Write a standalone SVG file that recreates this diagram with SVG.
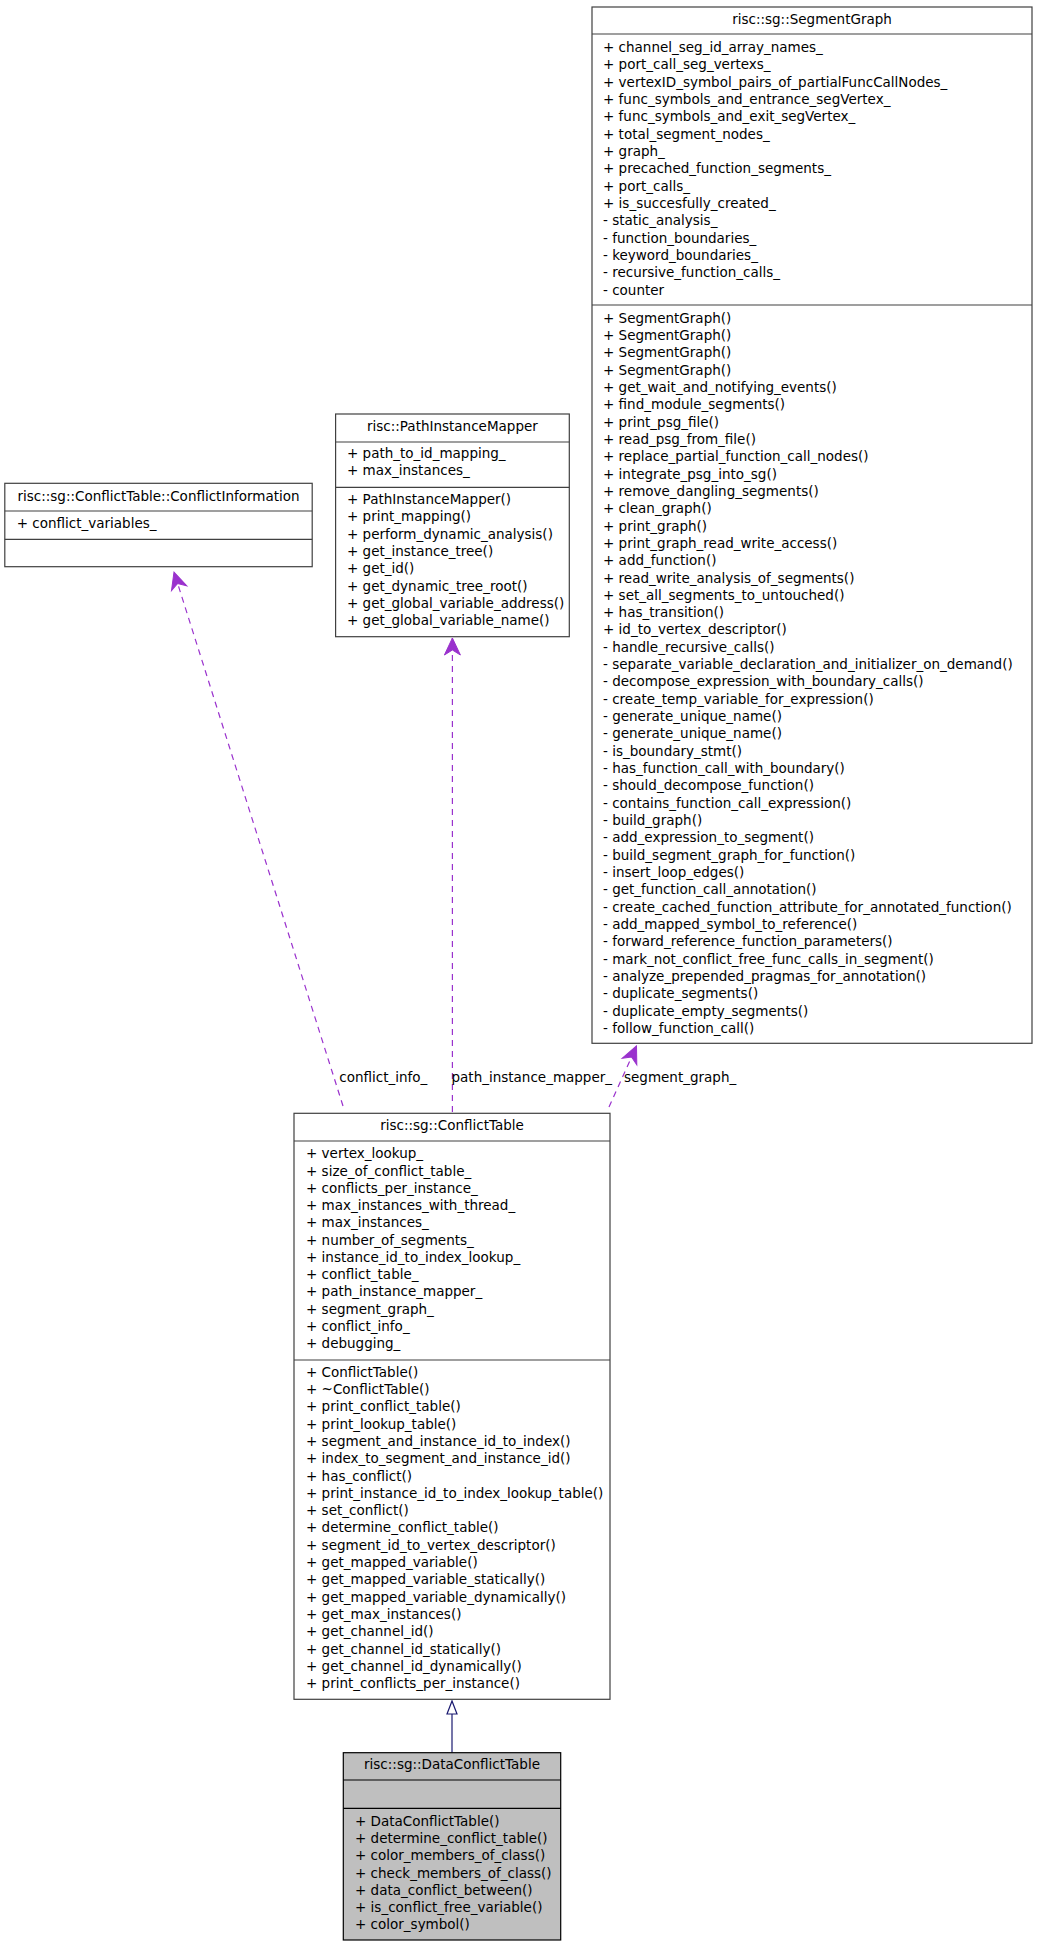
<svg xmlns="http://www.w3.org/2000/svg" width="1037" height="1947" viewBox="0 0 1037 1947">
<style>
  .box{fill:#ffffff;stroke:#404040;stroke-width:1.2}
  .hl{fill:#bfbfbf;stroke:#000000;stroke-width:1.2}
  .sep{stroke:#404040;stroke-width:1.2}
  .sepk{stroke:#000000;stroke-width:1.2}
  text{font-family:"DejaVu Sans","Liberation Sans",sans-serif;font-size:13.5px;fill:#000000}
  .t{text-anchor:middle}
  .use{fill:none;stroke:#9a32cd;stroke-width:1.2;stroke-dasharray:6,5}
  .inh{fill:none;stroke:#191970;stroke-width:1.2}
</style>
<defs>
  <marker id="vee" markerUnits="userSpaceOnUse" markerWidth="40" markerHeight="40" viewBox="-20 -20 40 40" refX="0" refY="0" orient="auto" overflow="visible">
    <path d="M0,0 L-17,-8 L-12,0 L-17,8 Z" fill="#9a32cd" stroke="#9a32cd" stroke-width="1"/>
  </marker>
</defs>
<rect width="1037" height="1947" fill="#ffffff"/>

<g id="connectors">
  <path class="use" d="M343,1106 L174,572" marker-end="url(#vee)"/>
  <path class="use" d="M452.4,1112 L452.4,638" marker-end="url(#vee)"/>
  <path class="use" d="M609,1107 L636.5,1046" marker-end="url(#vee)"/>
  <text x="339.3" y="1081.7">conflict_info_</text>
  <text x="451.5" y="1081.7">path_instance_mapper_</text>
  <text x="624" y="1081.7">segment_graph_</text>
  <line class="inh" x1="452" y1="1752.7" x2="452" y2="1714"/>
  <polygon points="452,1701 447,1714 457,1714" fill="#ffffff" stroke="#191970" stroke-width="1.2"/>
</g>

<g id="SegmentGraph">
  <rect class="box" x="592" y="7" width="440" height="1036.3"/>
  <line class="sep" x1="592" y1="34" x2="1032" y2="34"/>
  <line class="sep" x1="592" y1="305" x2="1032" y2="305"/>
  <text class="t" x="812" y="24">risc::sg::SegmentGraph</text>
  <text x="603" y="52">
    <tspan x="603" dy="0">+ channel_seg_id_array_names_</tspan>
    <tspan x="603" dy="17.33">+ port_call_seg_vertexs_</tspan>
    <tspan x="603" dy="17.33">+ vertexID_symbol_pairs_of_partialFuncCallNodes_</tspan>
    <tspan x="603" dy="17.33">+ func_symbols_and_entrance_segVertex_</tspan>
    <tspan x="603" dy="17.33">+ func_symbols_and_exit_segVertex_</tspan>
    <tspan x="603" dy="17.33">+ total_segment_nodes_</tspan>
    <tspan x="603" dy="17.33">+ graph_</tspan>
    <tspan x="603" dy="17.33">+ precached_function_segments_</tspan>
    <tspan x="603" dy="17.33">+ port_calls_</tspan>
    <tspan x="603" dy="17.33">+ is_succesfully_created_</tspan>
    <tspan x="603" dy="17.33">- static_analysis_</tspan>
    <tspan x="603" dy="17.33">- function_boundaries_</tspan>
    <tspan x="603" dy="17.33">- keyword_boundaries_</tspan>
    <tspan x="603" dy="17.33">- recursive_function_calls_</tspan>
    <tspan x="603" dy="17.33">- counter</tspan>
  </text>
  <text x="603" y="322.7">
    <tspan x="603" dy="0">+ SegmentGraph()</tspan>
    <tspan x="603" dy="17.32">+ SegmentGraph()</tspan>
    <tspan x="603" dy="17.32">+ SegmentGraph()</tspan>
    <tspan x="603" dy="17.32">+ SegmentGraph()</tspan>
    <tspan x="603" dy="17.32">+ get_wait_and_notifying_events()</tspan>
    <tspan x="603" dy="17.32">+ find_module_segments()</tspan>
    <tspan x="603" dy="17.32">+ print_psg_file()</tspan>
    <tspan x="603" dy="17.32">+ read_psg_from_file()</tspan>
    <tspan x="603" dy="17.32">+ replace_partial_function_call_nodes()</tspan>
    <tspan x="603" dy="17.32">+ integrate_psg_into_sg()</tspan>
    <tspan x="603" dy="17.32">+ remove_dangling_segments()</tspan>
    <tspan x="603" dy="17.32">+ clean_graph()</tspan>
    <tspan x="603" dy="17.32">+ print_graph()</tspan>
    <tspan x="603" dy="17.32">+ print_graph_read_write_access()</tspan>
    <tspan x="603" dy="17.32">+ add_function()</tspan>
    <tspan x="603" dy="17.32">+ read_write_analysis_of_segments()</tspan>
    <tspan x="603" dy="17.32">+ set_all_segments_to_untouched()</tspan>
    <tspan x="603" dy="17.32">+ has_transition()</tspan>
    <tspan x="603" dy="17.32">+ id_to_vertex_descriptor()</tspan>
    <tspan x="603" dy="17.32">- handle_recursive_calls()</tspan>
    <tspan x="603" dy="17.32">- separate_variable_declaration_and_initializer_on_demand()</tspan>
    <tspan x="603" dy="17.32">- decompose_expression_with_boundary_calls()</tspan>
    <tspan x="603" dy="17.32">- create_temp_variable_for_expression()</tspan>
    <tspan x="603" dy="17.32">- generate_unique_name()</tspan>
    <tspan x="603" dy="17.32">- generate_unique_name()</tspan>
    <tspan x="603" dy="17.32">- is_boundary_stmt()</tspan>
    <tspan x="603" dy="17.32">- has_function_call_with_boundary()</tspan>
    <tspan x="603" dy="17.32">- should_decompose_function()</tspan>
    <tspan x="603" dy="17.32">- contains_function_call_expression()</tspan>
    <tspan x="603" dy="17.32">- build_graph()</tspan>
    <tspan x="603" dy="17.32">- add_expression_to_segment()</tspan>
    <tspan x="603" dy="17.32">- build_segment_graph_for_function()</tspan>
    <tspan x="603" dy="17.32">- insert_loop_edges()</tspan>
    <tspan x="603" dy="17.32">- get_function_call_annotation()</tspan>
    <tspan x="603" dy="17.32">- create_cached_function_attribute_for_annotated_function()</tspan>
    <tspan x="603" dy="17.32">- add_mapped_symbol_to_reference()</tspan>
    <tspan x="603" dy="17.32">- forward_reference_function_parameters()</tspan>
    <tspan x="603" dy="17.32">- mark_not_conflict_free_func_calls_in_segment()</tspan>
    <tspan x="603" dy="17.32">- analyze_prepended_pragmas_for_annotation()</tspan>
    <tspan x="603" dy="17.32">- duplicate_segments()</tspan>
    <tspan x="603" dy="17.32">- duplicate_empty_segments()</tspan>
    <tspan x="603" dy="17.32">- follow_function_call()</tspan>
  </text>
</g>

<g id="PathInstanceMapper">
  <rect class="box" x="335.6" y="414" width="233.7" height="222.7"/>
  <line class="sep" x1="335.6" y1="442" x2="569.3" y2="442"/>
  <line class="sep" x1="335.6" y1="487.3" x2="569.3" y2="487.3"/>
  <text class="t" x="452.4" y="430.7">risc::PathInstanceMapper</text>
  <text x="347" y="458">
    <tspan x="347" dy="0">+ path_to_id_mapping_</tspan>
    <tspan x="347" dy="17.33">+ max_instances_</tspan>
  </text>
  <text x="347" y="504">
    <tspan x="347" dy="0">+ PathInstanceMapper()</tspan>
    <tspan x="347" dy="17.33">+ print_mapping()</tspan>
    <tspan x="347" dy="17.33">+ perform_dynamic_analysis()</tspan>
    <tspan x="347" dy="17.33">+ get_instance_tree()</tspan>
    <tspan x="347" dy="17.33">+ get_id()</tspan>
    <tspan x="347" dy="17.33">+ get_dynamic_tree_root()</tspan>
    <tspan x="347" dy="17.33">+ get_global_variable_address()</tspan>
    <tspan x="347" dy="17.33">+ get_global_variable_name()</tspan>
  </text>
</g>

<g id="ConflictInformation">
  <rect class="box" x="4.8" y="483.3" width="307.4" height="83.4"/>
  <line class="sep" x1="4.8" y1="511" x2="312.2" y2="511"/>
  <line class="sep" x1="4.8" y1="539.3" x2="312.2" y2="539.3"/>
  <text class="t" x="158.5" y="500.7">risc::sg::ConflictTable::ConflictInformation</text>
  <text x="16.7" y="528">+ conflict_variables_</text>
</g>

<g id="ConflictTable">
  <rect class="box" x="294" y="1113.3" width="316" height="586"/>
  <line class="sep" x1="294" y1="1141" x2="610" y2="1141"/>
  <line class="sep" x1="294" y1="1360" x2="610" y2="1360"/>
  <text class="t" x="452" y="1130">risc::sg::ConflictTable</text>
  <text x="306" y="1158.3">
    <tspan x="306" dy="0">+ vertex_lookup_</tspan>
    <tspan x="306" dy="17.27">+ size_of_conflict_table_</tspan>
    <tspan x="306" dy="17.27">+ conflicts_per_instance_</tspan>
    <tspan x="306" dy="17.27">+ max_instances_with_thread_</tspan>
    <tspan x="306" dy="17.27">+ max_instances_</tspan>
    <tspan x="306" dy="17.27">+ number_of_segments_</tspan>
    <tspan x="306" dy="17.27">+ instance_id_to_index_lookup_</tspan>
    <tspan x="306" dy="17.27">+ conflict_table_</tspan>
    <tspan x="306" dy="17.27">+ path_instance_mapper_</tspan>
    <tspan x="306" dy="17.27">+ segment_graph_</tspan>
    <tspan x="306" dy="17.27">+ conflict_info_</tspan>
    <tspan x="306" dy="17.27">+ debugging_</tspan>
  </text>
  <text x="306" y="1376.7">
    <tspan x="306" dy="0">+ ConflictTable()</tspan>
    <tspan x="306" dy="17.31">+ ~ConflictTable()</tspan>
    <tspan x="306" dy="17.31">+ print_conflict_table()</tspan>
    <tspan x="306" dy="17.31">+ print_lookup_table()</tspan>
    <tspan x="306" dy="17.31">+ segment_and_instance_id_to_index()</tspan>
    <tspan x="306" dy="17.31">+ index_to_segment_and_instance_id()</tspan>
    <tspan x="306" dy="17.31">+ has_conflict()</tspan>
    <tspan x="306" dy="17.31">+ print_instance_id_to_index_lookup_table()</tspan>
    <tspan x="306" dy="17.31">+ set_conflict()</tspan>
    <tspan x="306" dy="17.31">+ determine_conflict_table()</tspan>
    <tspan x="306" dy="17.31">+ segment_id_to_vertex_descriptor()</tspan>
    <tspan x="306" dy="17.31">+ get_mapped_variable()</tspan>
    <tspan x="306" dy="17.31">+ get_mapped_variable_statically()</tspan>
    <tspan x="306" dy="17.31">+ get_mapped_variable_dynamically()</tspan>
    <tspan x="306" dy="17.31">+ get_max_instances()</tspan>
    <tspan x="306" dy="17.31">+ get_channel_id()</tspan>
    <tspan x="306" dy="17.31">+ get_channel_id_statically()</tspan>
    <tspan x="306" dy="17.31">+ get_channel_id_dynamically()</tspan>
    <tspan x="306" dy="17.31">+ print_conflicts_per_instance()</tspan>
  </text>
</g>

<g id="DataConflictTable">
  <rect class="hl" x="343.3" y="1752.7" width="217.4" height="187.3"/>
  <line class="sepk" x1="343.3" y1="1780" x2="560.7" y2="1780"/>
  <line class="sepk" x1="343.3" y1="1808.3" x2="560.7" y2="1808.3"/>
  <text class="t" x="452" y="1769.3">risc::sg::DataConflictTable</text>
  <text x="355" y="1825.7">
    <tspan x="355" dy="0">+ DataConflictTable()</tspan>
    <tspan x="355" dy="17.27">+ determine_conflict_table()</tspan>
    <tspan x="355" dy="17.27">+ color_members_of_class()</tspan>
    <tspan x="355" dy="17.27">+ check_members_of_class()</tspan>
    <tspan x="355" dy="17.27">+ data_conflict_between()</tspan>
    <tspan x="355" dy="17.27">+ is_conflict_free_variable()</tspan>
    <tspan x="355" dy="17.27">+ color_symbol()</tspan>
  </text>
</g>
</svg>
